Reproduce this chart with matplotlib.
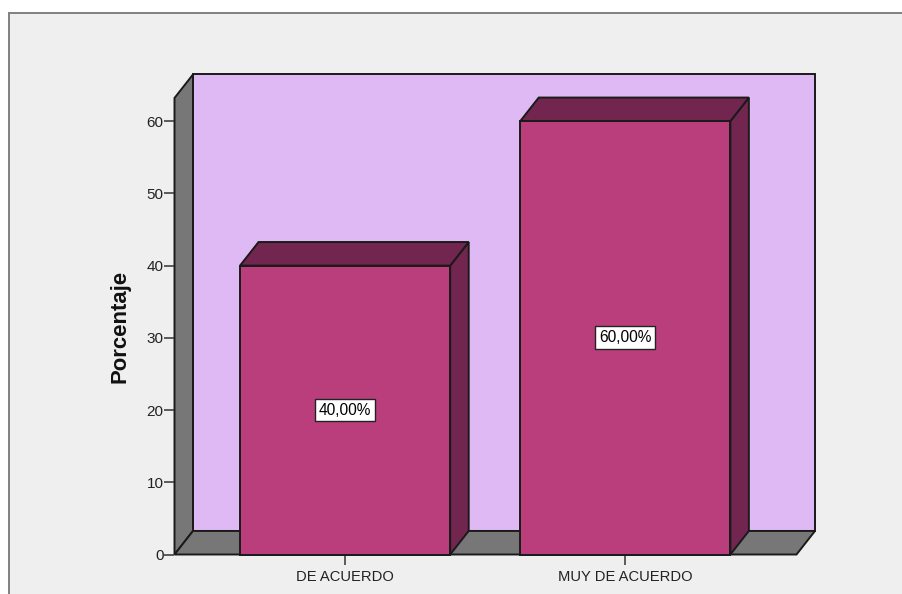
import matplotlib
matplotlib.use("Agg")
import matplotlib.pyplot as plt
from matplotlib.patches import Polygon, Rectangle

plt.rcParams["font.family"] = ["Liberation Sans", "DejaVu Sans"]

# data
categories = ["DE ACUERDO", "MUY DE ACUERDO"]
percent = [40, 60]
value_labels = ["40,00%", "60,00%"]
y_ticks = [0, 10, 20, 30, 40, 50, 60]
y_label = "Porcentaje"

# colours
BG = "#EFEFEF"
WALL = "#DFB9F3"
GREY = "#777777"
BAR = "#BA3E7C"
BAR_DARK = "#72264F"
EDGE = "#1A1A1A"

W, H = 903, 594
XMIN, XMAX = -0.609, 1.611
YMAX = 63.2
BAR_W = 0.75
DX = 0.066   # 3D depth in data units
DY = 3.26
AX_W = 622

fig = plt.figure(figsize=(W / 100, H / 100), dpi=100, facecolor="white")
# grey panel behind the chart, its right and bottom edges run off the picture
fig.add_artist(Rectangle((9 / W, -0.05), 1.05, 1.05 - 13 / H, transform=fig.transFigure,
                         facecolor=BG, edgecolor="#808080", lw=1.4, zorder=-1))

ax = fig.add_axes([174.5 / W, 1 - 554.5 / H, AX_W / W, (554.5 - 98) / H])
ax.set_xlim(XMIN, XMAX)
ax.set_ylim(0, YMAX)
ax.patch.set_visible(False)
for s in ax.spines.values():
    s.set_visible(False)


def poly(pts, color, lw=1.4, z=2):
    ax.add_patch(Polygon(pts, closed=True, facecolor=color, edgecolor=EDGE, lw=lw,
                         zorder=z, clip_on=False, joinstyle="miter"))


# box: back wall, left wall, floor
poly([(XMIN + DX, DY), (XMAX + DX, DY), (XMAX + DX, YMAX + DY), (XMIN + DX, YMAX + DY)], WALL, z=1)
poly([(XMIN, 0), (XMIN + DX, DY), (XMIN + DX, YMAX + DY), (XMIN, YMAX)], GREY, z=1)
poly([(XMIN, 0), (XMAX, 0), (XMAX + DX, DY), (XMIN + DX, DY)], GREY, z=1)

# bars with side and top faces
for i, v in enumerate(percent):
    x0, x1 = i - BAR_W / 2, i + BAR_W / 2
    poly([(x1, 0), (x1 + DX, DY), (x1 + DX, v + DY), (x1, v)], BAR_DARK, z=3)
    poly([(x0, v), (x1, v), (x1 + DX, v + DY), (x0 + DX, v + DY)], BAR_DARK, z=3)
    ax.bar(i, v, BAR_W, color=BAR, edgecolor=EDGE, lw=1.4, zorder=4, clip_on=False)
    ax.text(i, v / 2, value_labels[i], ha="center", va="center", fontsize=11.2, color="black", zorder=5,
            bbox=dict(boxstyle="square,pad=0.25", facecolor="white", edgecolor="#222222", lw=1.0))

ax.set_xticks(range(len(categories)))
ax.set_xticklabels(categories)
ax.set_yticks(y_ticks)
ax.tick_params(axis="x", length=7, width=1.1, color="#333333", labelsize=10.6, labelcolor="#222222", pad=4)
ax.tick_params(axis="y", length=7, width=1.1, color="#333333", labelsize=11, labelcolor="#222222", pad=1)
ax.set_ylabel(y_label, fontsize=15.9, fontweight="bold", color="#111111")
ax.yaxis.set_label_coords(-(174.5 - 131) / AX_W, 0.5)

fig.savefig("out.png", dpi=100, facecolor=fig.get_facecolor())
